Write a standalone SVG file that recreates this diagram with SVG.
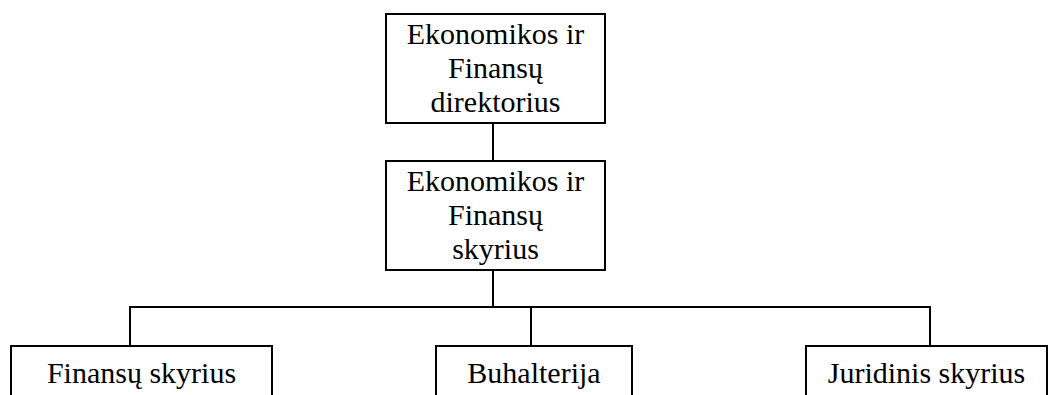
<svg xmlns="http://www.w3.org/2000/svg" width="1049" height="395" viewBox="0 0 1049 395">
<style>
.box{fill:#fff;stroke:#000;stroke-width:2}
.t{font-family:"Liberation Serif","Times New Roman",serif;font-size:30px;fill:#000;text-anchor:middle}
.c{stroke:#000;stroke-width:2;fill:none}
</style>
<rect width="1049" height="395" fill="#fff"/>
<g id="connectors">
<line class="c" x1="493" y1="123" x2="493" y2="161"/>
<line class="c" x1="493" y1="270" x2="493" y2="307"/>
<line class="c" x1="129" y1="307" x2="931" y2="307"/>
<line class="c" x1="130" y1="307" x2="130" y2="346"/>
<line class="c" x1="531" y1="307" x2="531" y2="346"/>
<line class="c" x1="930" y1="307" x2="930" y2="346"/>
</g>
<g id="n1">
<rect class="box" x="386" y="14" width="219" height="109"/>
<text class="t" x="495.5" y="44">Ekonomikos ir</text>
<text class="t" x="495.5" y="78">Finansų</text>
<text class="t" x="495.5" y="112">direktorius</text>
</g>
<g id="n2">
<rect class="box" x="386" y="161" width="219" height="109"/>
<text class="t" x="495.5" y="191">Ekonomikos ir</text>
<text class="t" x="495.5" y="225">Finansų</text>
<text class="t" x="495.5" y="259">skyrius</text>
</g>
<g id="n3">
<rect class="box" x="11" y="346" width="261" height="60"/>
<text class="t" x="141.5" y="383">Finansų skyrius</text>
</g>
<g id="n4">
<rect class="box" x="436" y="346" width="196" height="60"/>
<text class="t" x="534" y="383">Buhalterija</text>
</g>
<g id="n5">
<rect class="box" x="806" y="346" width="241" height="60"/>
<text class="t" x="926.5" y="383">Juridinis skyrius</text>
</g>
</svg>
